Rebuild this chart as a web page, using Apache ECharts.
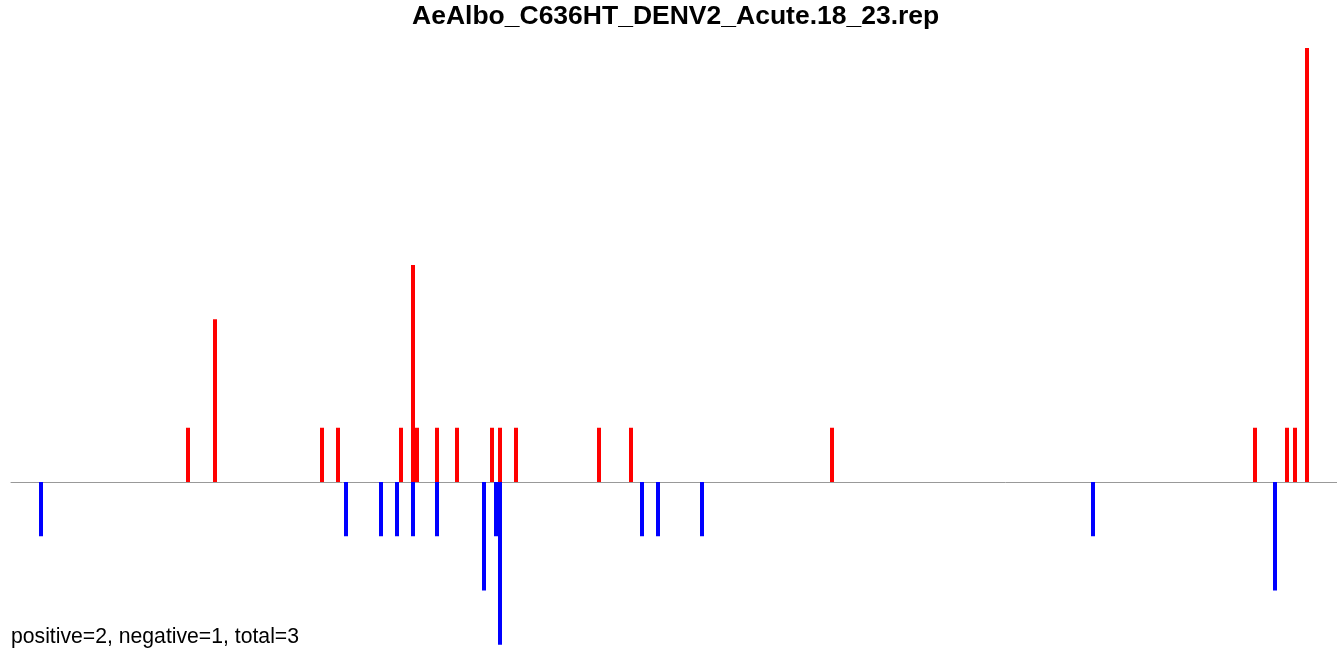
<!DOCTYPE html>
<html>
<head>
<meta charset="utf-8">
<script src="https://cdn.jsdelivr.net/npm/echarts@6/dist/echarts.min.js"></script>
<style>
  html, body { margin: 0; padding: 0; background: #fff; }
  #chart { width: 1337px; height: 651px; }
</style>
</head>
<body>
<div id="chart"></div>
<script>
// positions along the x scale (0..1326) and counts; positive reads up, negative reads down
let posSites = [177, 204, 311, 327, 390, 402, 406, 426, 446, 481, 489, 505, 588, 620, 821, 1244, 1276, 1284, 1296]
let posCounts = [1, 3, 1, 1, 1, 4, 1, 1, 1, 1, 1, 1, 1, 1, 1, 1, 1, 1, 8]
let negSites = [30, 335, 370, 386, 402, 426, 473, 485, 489, 631, 647, 691, 1082, 1264]
let negCounts = [-1, -1, -1, -1, -1, -1, -2, -1, -3, -1, -1, -1, -1, -2]
let chartTitle = 'AeAlbo_C636HT_DENV2_Acute.18_23.rep'
let footNote = 'positive=2, negative=1, total=3'

let chart = echarts.init(document.getElementById('chart'))
let font = '"Liberation Sans", Arial, Helvetica, sans-serif'

chart.setOption({
	animation: false,
	backgroundColor: '#fff',
	title: [{
		text: chartTitle,
		left: 412,
		top: 3,
		padding: 0,
		textStyle: { fontFamily: font, fontSize: 26.5, fontWeight: 'bold', color: '#000' }
	}, {
		text: footNote,
		left: 11,
		top: 627,
		padding: 0,
		textStyle: { fontFamily: font, fontSize: 21.2, fontWeight: 'normal', color: '#000' }
	}],
	grid: { left: 11, right: 0, top: 48, bottom: 6.25 },
	xAxis: {
		type: 'value',
		min: 0,
		max: 1326,
		axisLine: { show: true, onZero: true, lineStyle: { color: '#999', width: 1 } },
		axisTick: { show: false },
		axisLabel: { show: false },
		splitLine: { show: false }
	},
	yAxis: {
		type: 'value',
		min: -3,
		max: 8,
		show: false,
		splitLine: { show: false }
	},
	series: [{
		name: 'positive',
		type: 'bar',
		barWidth: 4,
		barGap: '-100%',
		itemStyle: { color: '#ff0000' },
		data: posSites.map((x, i) => [x, posCounts[i]])
	}, {
		name: 'negative',
		type: 'bar',
		barWidth: 4,
		barGap: '-100%',
		itemStyle: { color: '#0000ff' },
		data: negSites.map((x, i) => [x, negCounts[i]])
	}]
})
</script>
</body>
</html>
